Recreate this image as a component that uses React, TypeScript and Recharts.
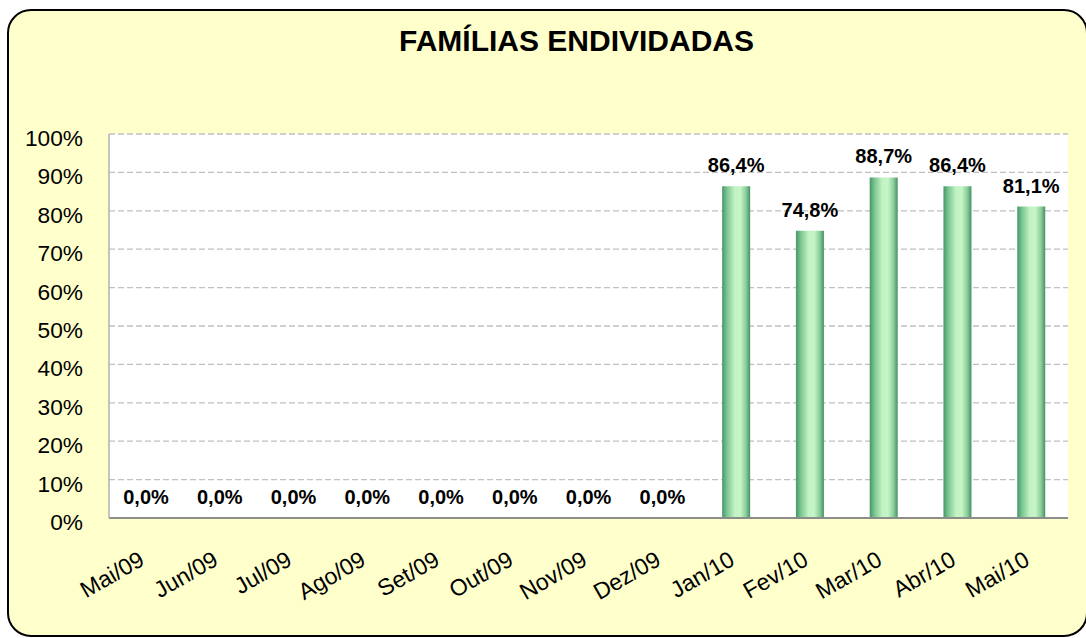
import React from 'react';
import { BarChart, Bar, XAxis, YAxis, CartesianGrid, LabelList } from 'recharts';

const categories = ['Mai/09', 'Jun/09', 'Jul/09', 'Ago/09', 'Set/09', 'Out/09', 'Nov/09', 'Dez/09', 'Jan/10', 'Fev/10', 'Mar/10', 'Abr/10', 'Mai/10'];
const values = [0, 0, 0, 0, 0, 0, 0, 0, 86.4, 74.8, 88.7, 86.4, 81.1];
const yTicks = [0, 10, 20, 30, 40, 50, 60, 70, 80, 90, 100];
const title = 'FAMÍLIAS ENDIVIDADAS';

const data = categories.map((c, i) => ({ name: c, value: values[i] }));

const FONT = '"Liberation Sans", Arial, Helvetica, sans-serif';

const XTick = (props: any) => {
  const { x, y, payload } = props;
  return (
    <g transform={`translate(${x},${y})`}>
      <text
        x={0}
        y={0}
        textAnchor="end"
        transform="translate(0,46) rotate(-30)"
        fontSize={23}
        fontFamily={FONT}
        fill="#000"
      >
        {payload.value}
      </text>
    </g>
  );
};

const YTick = (props: any) => {
  const { y, payload } = props;
  return (
    <text x={83} y={y + 12} textAnchor="end" fontSize={22.7} fontFamily={FONT} fill="#000">
      {`${payload.value}%`}
    </text>
  );
};

const fmt = (v: any) => `${Number(v).toFixed(1).replace('.', ',')}%`;

export default function App() {
  return (
    <div style={{ position: 'fixed', left: 0, top: 0, width: 1086, height: 638, overflow: 'hidden', background: '#fff', fontFamily: FONT }}>
      <div
        style={{
          position: 'absolute',
          left: 7,
          top: 9,
          width: 1081,
          height: 628,
          boxSizing: 'border-box',
          border: '2px solid #000',
          borderRadius: 24,
          background: '#FFFFCC',
        }}
      />
      <div
        style={{
          position: 'absolute',
          left: 0,
          width: 1153,
          top: 21,
          textAlign: 'center',
          fontSize: 30,
          fontWeight: 'bold',
          color: '#000',
          lineHeight: '40px',
        }}
      >
        {title}
      </div>
      <div style={{ position: 'absolute', left: 0, top: 0 }}>
        <BarChart width={1086} height={638} data={data} margin={{ top: 134, right: 18, bottom: 20, left: 9 }}>
          <defs>
            <linearGradient id="barGrad" x1="0" y1="0" x2="1" y2="0">
              <stop offset="0%" stopColor="#47966a" />
              <stop offset="18%" stopColor="#7cc792" />
              <stop offset="45%" stopColor="#c2f3c4" />
              <stop offset="65%" stopColor="#c6f5c6" />
              <stop offset="85%" stopColor="#8bcd9c" />
              <stop offset="100%" stopColor="#449162" />
            </linearGradient>
          </defs>
          <CartesianGrid
            vertical={false}
            fill="#ffffff"
            stroke="#c0c0c0"
            strokeDasharray="6 3"
            strokeWidth={1.3}
          />
          <XAxis
            dataKey="name"
            height={100}
            tickLine={false}
            tickSize={0}
            tickMargin={0}
            interval={0}
            tick={<XTick />}
            axisLine={{ stroke: '#8c8c8c', strokeWidth: 2 }}
          />
          <YAxis
            width={100}
            domain={[0, 100]}
            ticks={yTicks}
            tickLine={false}
            interval={0}
            tick={<YTick />}
            axisLine={{ stroke: '#b0b0b0', strokeWidth: 1.5 }}
          />
          <Bar dataKey="value" fill="url(#barGrad)" barSize={28} minPointSize={0.01} isAnimationActive={false}>
            <LabelList
              dataKey="value"
              position="top"
              offset={14}
              formatter={fmt}
              style={{ fontSize: 20, fontWeight: 'bold', fill: '#000', fontFamily: FONT }}
            />
          </Bar>
        </BarChart>
      </div>
    </div>
  );
}
